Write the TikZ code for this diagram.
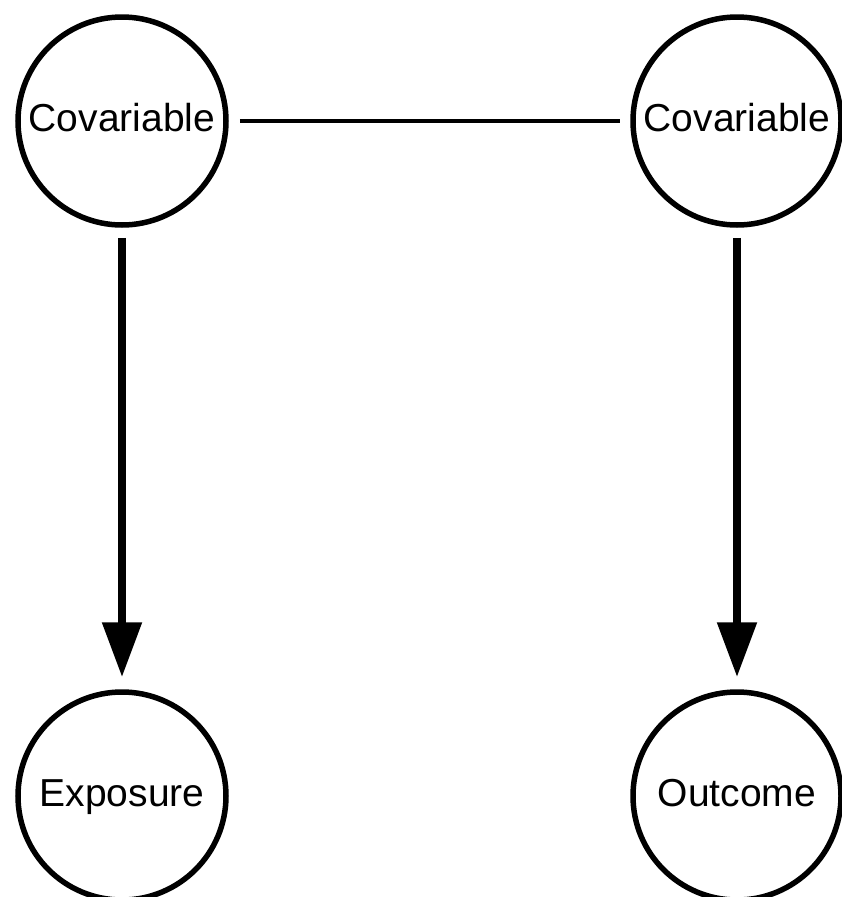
\documentclass[tikz,border=0pt]{standalone}
\usepackage{fontspec}
\setmainfont{Liberation Sans}
\usepackage{tikz}
\usetikzlibrary{arrows.meta,positioning}

\begin{document}
\begin{tikzpicture}[x=1pt,y=1pt,
        var/.style={circle, draw=black, fill=white, line width=5.5pt,
            minimum size=208pt, inner sep=0pt,
            text height=28pt, text depth=8pt,
            font=\fontsize{39}{44}\selectfont},
        link/.style={line width=3.5pt},
        causes/.style={line width=8.5pt, -{Triangle[width=38pt,length=55pt]}}
    ]
        \useasboundingbox (0,0) rectangle (842,-897);

        % Variables
        \node[var] (covl) at (122,-121) {Covariable};
        \node[var] (covr) at (737,-121) {Covariable};
        \node[var] (expo) at (122,-796) {Exposure};
        \node[var] (outc) at (737,-796) {Outcome};

        % Association between covariables
        \draw[link, shorten <=11pt, shorten >=10pt] (covl) -- (covr);

        % Causal arrows
        \draw[causes, shorten <=10pt, shorten >=12pt] (covl) -- (expo);
        \draw[causes, shorten <=10pt, shorten >=12pt] (covr) -- (outc);
\end{tikzpicture}
\end{document}
